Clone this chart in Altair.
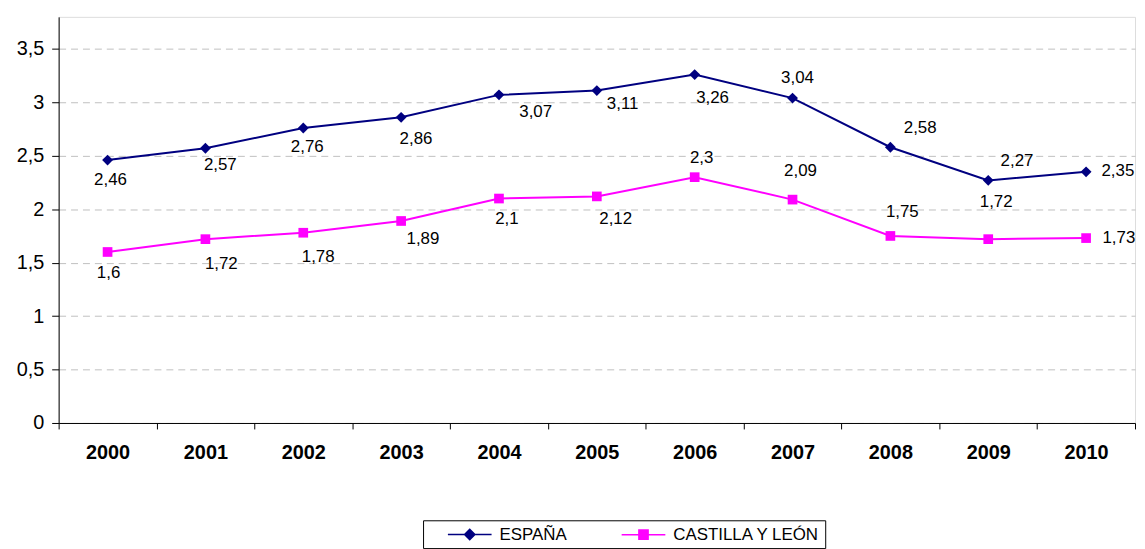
import altair as alt
import pandas as pd

years = ["2000", "2001", "2002", "2003", "2004", "2005", "2006", "2007", "2008", "2009", "2010"]
espana = [2.46, 2.57, 2.76, 2.86, 3.07, 3.11, 3.26, 3.04, 2.58, 2.27, 2.35]
castilla = [1.6, 1.72, 1.78, 1.89, 2.1, 2.12, 2.3, 2.09, 1.75, 1.72, 1.73]
series_names = ["ESPAÑA", "CASTILLA Y LEÓN"]
series_colors = ["#000080", "#FF00FF"]
series_shapes = ["diamond", "square"]
y_ticks = [0, 0.5, 1, 1.5, 2, 2.5, 3, 3.5]

# label offsets (pixels) for the data labels
esp_dx = [3, 15, 4, 15, 37, 26, 18, 5, 30, 29, 32]
esp_dy = [20, 17, 19, 22, 17, 14, 24, -20, -19, -19, -1]
cyl_dx = [1, 16, 15, 22, 8, 19, 7, 8, 12, 8, 33]
cyl_dy = [21, 25, 24, 18, 21, 23, -19, -29, -24, -37, 0]

FONT = "Liberation Sans"

rows = []
for i, y in enumerate(years):
    rows.append({"year": y, "value": espana[i], "series": series_names[0]})
    rows.append({"year": y, "value": castilla[i], "series": series_names[1]})
df = pd.DataFrame(rows)

x_enc = alt.X(
    "year:O",
    scale=alt.Scale(domain=years, paddingInner=0, paddingOuter=0),
    axis=alt.Axis(
        title=None, labelAngle=0, labelFont=FONT, labelFontSize=20,
        labelFontWeight="bold", labelColor="black", tickBand="extent",
        tickSize=6, tickColor="black", domainColor="black", labelPadding=14,
        grid=False,
    ),
)
y_enc = alt.Y(
    "value:Q",
    scale=alt.Scale(domain=[0, 3.8], nice=False, zero=True),
    axis=alt.Axis(
        title=None, values=y_ticks, labelFont=FONT, labelFontSize=20,
        labelColor="black", labelExpr="replace(toString(datum.value), '.', ',')",
        tickSize=7, tickColor="black", domainColor="black", labelPadding=8,
        grid=True, gridColor="#c0c0c0", gridDash=[7, 5], gridWidth=1,
    ),
)
color_scale = alt.Scale(domain=series_names, range=series_colors)

series_layers = []
for name, col, shp, sz in zip(series_names, series_colors, series_shapes, [120, 95]):
    base = alt.Chart(df).transform_filter(alt.datum.series == name)
    series_layers.append(base.mark_line(strokeWidth=2, color=col).encode(x=x_enc, y=y_enc))
    series_layers.append(
        base.mark_point(filled=True, opacity=1, size=sz, shape=shp, color=col).encode(x=x_enc, y=y_enc)
    )

legend_paths = [
    "M-2.75,0H2.75M-0.65,0L0,-0.65L0.65,0L0,0.65Z",
    "M-2.75,0H2.75M-0.58,-0.58H0.58V0.58H-0.58Z",
]
leg = alt.Legend(
    title=None, orient="none", legendX=367, legendY=507, direction="horizontal",
    labelFont=FONT, labelFontSize=17, labelColor="black",
    symbolSize=256, symbolStrokeWidth=1.5, symbolOffset=33, labelOffset=21,
    columnPadding=35, padding=5, strokeColor="black", fillColor="white",
)
legend_layer = alt.Chart(df).transform_filter("false").mark_point(filled=True, opacity=1).encode(
    x=x_enc, y=y_enc,
    color=alt.Color("series:N", scale=color_scale, legend=leg),
    stroke=alt.Stroke("series:N", scale=color_scale, legend=leg),
    shape=alt.Shape("series:N", scale=alt.Scale(domain=series_names, range=legend_paths), legend=leg),
)

text_layers = []
for vals, dxs, dys in [(espana, esp_dx, esp_dy), (castilla, cyl_dx, cyl_dy)]:
    for i, y in enumerate(years):
        d = pd.DataFrame({"year": [y], "value": [vals[i]], "label": [str(vals[i]).replace(".", ",")]})
        text_layers.append(
            alt.Chart(d).mark_text(
                dx=dxs[i], dy=dys[i], font=FONT, fontSize=17, color="black",
                align="center", baseline="middle",
            ).encode(x=x_enc, y=y_enc, text="label:N")
        )

chart = alt.layer(legend_layer, *series_layers, *text_layers).properties(
    width=1084, height=409,
    padding={"left": 51, "top": 7, "right": 2, "bottom": 125},
    autosize=alt.AutoSizeParams(type="none"),
).configure_view(
    stroke="#808080", strokeWidth=1
).configure(background="white")

chart.save("out.html", embed_options={"renderer": "svg", "actions": False})
